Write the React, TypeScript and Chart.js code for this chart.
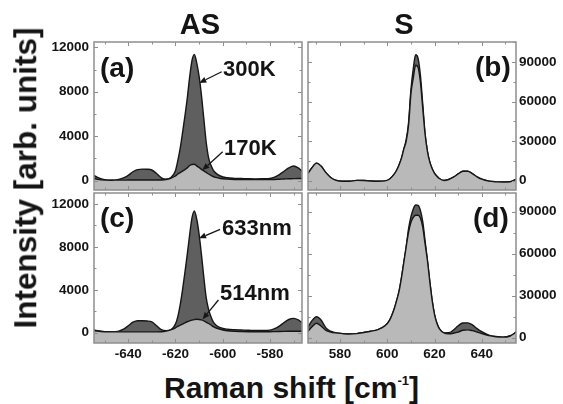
import React, { useEffect, useRef } from "react";
import { Chart, registerables } from "chart.js";

Chart.register(...registerables);

const FONT = "'Liberation Sans', Arial, Helvetica, sans-serif";
const DARK = "#5f5f5f";
const LIGHT = "#b9b9b9";
const LINE = "#161616";
const FRAME = "#8e8e8e";
const TEXT = "#141414";

// ---------- data: anti-Stokes (left column) ----------
const asX = [-656, -653, -650, -647, -644, -642, -640, -638, -636, -634, -632, -630, -628, -626, -624, -622, -620, -619, -618, -617, -616, -615, -614, -613, -612, -611, -610, -609, -608, -607, -606, -605, -604, -603, -601, -598, -595, -592, -589, -586, -583, -580, -578, -576, -574, -572, -570, -568, -566, -564];
const as300K = [620, 300, 90, 40, 120, 250, 480, 800, 1000, 1040, 1030, 960, 640, 260, 130, 250, 900, 1800, 2900, 4300, 5800, 7400, 9300, 10800, 11350, 10600, 9400, 7700, 5600, 3500, 2100, 1400, 950, 700, 420, 260, 210, 190, 170, 160, 170, 200, 320, 550, 850, 1150, 1320, 1150, 800, 650];
const as170K = [280, 120, 50, 40, 50, 50, 55, 60, 60, 60, 60, 60, 60, 65, 100, 220, 420, 600, 720, 860, 1000, 1150, 1370, 1460, 1475, 1330, 1180, 1020, 880, 740, 600, 470, 360, 290, 200, 140, 110, 100, 90, 90, 90, 100, 110, 130, 150, 170, 180, 190, 190, 190];
const as633nm = [320, 180, 100, 90, 150, 330, 650, 980, 1120, 1120, 1090, 1000, 650, 280, 190, 260, 800, 1500, 2600, 4000, 5600, 7300, 9100, 10700, 11350, 10600, 9200, 7300, 5200, 3300, 2200, 1500, 1000, 750, 470, 320, 270, 250, 230, 200, 200, 240, 380, 620, 950, 1230, 1340, 1200, 880, 750];
const as514nm = [280, 150, 90, 80, 80, 80, 80, 80, 80, 80, 80, 80, 80, 90, 150, 270, 450, 600, 700, 800, 920, 1020, 1100, 1170, 1220, 1250, 1230, 1190, 1110, 990, 860, 720, 560, 460, 320, 180, 120, 100, 90, 90, 90, 90, 100, 110, 120, 130, 140, 140, 140, 140];

// ---------- data: Stokes (right column) ----------
const sX = [564, 566, 568, 570, 572, 574, 576, 578, 581, 584, 587, 590, 593, 596, 599, 601, 603, 604, 605, 606, 607, 608, 609, 610, 611, 612, 613, 614, 615, 616, 617, 618, 619, 620, 621, 622, 624, 626, 628, 630, 632, 634, 636, 638, 640, 643, 646, 649, 652, 655, 657];
const s300K = [1500, 4500, 9500, 13200, 10800, 6000, 2300, 300, -600, -600, 100, 0, -400, -600, -300, 1200, 5000, 8000, 12000, 17000, 24000, 31000, 44000, 69000, 85000, 95500, 93000, 80000, 58000, 35000, 22000, 14000, 9000, 5500, 3200, 1500, 0, 800, 2500, 5000, 7000, 7000, 5300, 2800, 1000, -500, -1000, -1100, -900, 1500, 3500];
const s170K = [1500, 4500, 9500, 13200, 10800, 6000, 2300, 300, -600, -600, 100, 0, -400, -600, -300, 1200, 5000, 8000, 12000, 17000, 24000, 30000, 42000, 66000, 78000, 87500, 86000, 75000, 55000, 35000, 22000, 14000, 9000, 5500, 3200, 1500, 0, 800, 2500, 5000, 7000, 7000, 5300, 2800, 1000, -500, -1000, -1100, -900, 1500, 3500];
const s633nm = [2500, 6500, 12000, 15000, 12500, 7000, 4600, 3500, 2900, 2600, 2900, 3700, 4600, 5800, 8500, 12600, 21000, 26900, 33500, 43000, 54000, 65000, 78000, 86500, 92000, 94800, 94500, 91000, 83000, 69000, 55000, 40000, 26500, 16500, 10300, 6500, 3400, 3500, 5500, 8500, 10500, 10600, 9200, 6500, 4300, 1800, 800, 400, 1200, 4500, 6500];
const s514nm = [1500, 4000, 7600, 10300, 8200, 5200, 4000, 3400, 2900, 2600, 2900, 3700, 4600, 5800, 8500, 12600, 21000, 26900, 33500, 43000, 54000, 65000, 75500, 82500, 86000, 87500, 87500, 85500, 79000, 67000, 55000, 40000, 26500, 16500, 10300, 6500, 3400, 2800, 3200, 4000, 5300, 5600, 5000, 4000, 3000, 1500, 700, 400, 1200, 4500, 6500];

// ---------- tick labels ----------
const asXTicks = [-640, -620, -600, -580];
const sXTicks = [580, 600, 620, 640];
const asYTicks = [0, 4000, 8000, 12000];
const sYTicks = [0, 30000, 60000, 90000];

type Arrow = { from: [number, number]; to: [number, number] };

type PanelCfg = {
  key: string;
  left: number; top: number; width: number; height: number;
  padding: { top: number; right: number; bottom: number; left: number };
  xs: number[]; dark: number[]; light: number[];
  xMin: number; xMax: number; yMin: number; yMax: number;
  xTicks: number[]; yTicks: number[]; yMinor: number;
  yPos: "left" | "right"; yWidth: number; yPad: number;
  showX: boolean;
  arrows: Arrow[];
};

const panels: PanelCfg[] = [
  {
    key: "a", left: 40, top: 38, width: 266, height: 156,
    padding: { top: 4, right: 4, bottom: 4, left: 0 },
    xs: asX, dark: as300K, light: as170K,
    xMin: -654.5, xMax: -566.4, yMin: -840, yMax: 12480,
    xTicks: asXTicks, yTicks: asYTicks, yMinor: 2000,
    yPos: "left", yWidth: 54, yPad: 5, showX: false,
    arrows: [
      { from: [-600.4, 9800], to: [-609.9, 8800] },
      { from: [-600.0, 2600], to: [-608.6, 950] },
    ],
  },
  {
    key: "b", left: 304, top: 38, width: 259, height: 156,
    padding: { top: 4, right: 0, bottom: 4, left: 4 },
    xs: sX, dark: s300K, light: s170K,
    xMin: 566.4, xMax: 654.5, yMin: -7200, yMax: 105200,
    xTicks: sXTicks, yTicks: sYTicks, yMinor: 15000,
    yPos: "right", yWidth: 47, yPad: 3, showX: false,
    arrows: [],
  },
  {
    key: "c", left: 40, top: 189, width: 266, height: 178,
    padding: { top: 4, right: 4, bottom: 0, left: 0 },
    xs: asX, dark: as633nm, light: as514nm,
    xMin: -654.5, xMax: -566.4, yMin: -960, yMax: 13025,
    xTicks: asXTicks, yTicks: asYTicks, yMinor: 2000,
    yPos: "left", yWidth: 54, yPad: 5, showX: true,
    arrows: [
      { from: [-601.1, 9640], to: [-610.0, 8800] },
      { from: [-601.8, 3050], to: [-608.5, 1250] },
    ],
  },
  {
    key: "d", left: 304, top: 189, width: 259, height: 178,
    padding: { top: 4, right: 0, bottom: 0, left: 4 },
    xs: sX, dark: s633nm, light: s514nm,
    xMin: 566.4, xMax: 654.5, yMin: -3800, yMax: 103400,
    xTicks: sXTicks, yTicks: sYTicks, yMinor: 15000,
    yPos: "right", yWidth: 47, yPad: 3, showX: true,
    arrows: [],
  },
];

function makeOverlay(cfg: PanelCfg) {
  return {
    id: "overlay" + cfg.key,
    afterDatasetsDraw(chart: any) {
      const { ctx, chartArea: a, scales } = chart;
      const xs = scales.x, ys = scales.y;
      ctx.save();
      ctx.strokeStyle = FRAME;
      ctx.lineWidth = 1;
      ctx.beginPath();
      for (let v = Math.ceil(cfg.xMin / 10) * 10; v <= cfg.xMax; v += 10) {
        const p = Math.round(xs.getPixelForValue(v)) + 0.5;
        const len = v % 20 === 0 ? 4 : 2.5;
        ctx.moveTo(p, a.bottom); ctx.lineTo(p, a.bottom - len);
        ctx.moveTo(p, a.top); ctx.lineTo(p, a.top + len);
      }
      for (let v = Math.ceil(cfg.yMin / cfg.yMinor) * cfg.yMinor; v <= cfg.yMax; v += cfg.yMinor) {
        const p = Math.round(ys.getPixelForValue(v)) + 0.5;
        const len = Math.round(v / cfg.yMinor) % 2 === 0 ? 4 : 2.5;
        ctx.moveTo(a.left, p); ctx.lineTo(a.left + len, p);
        ctx.moveTo(a.right, p); ctx.lineTo(a.right - len, p);
      }
      ctx.stroke();
      ctx.lineWidth = 1.5;
      ctx.strokeRect(a.left, a.top, a.right - a.left, a.bottom - a.top);

      ctx.strokeStyle = LINE;
      ctx.fillStyle = LINE;
      ctx.lineWidth = 1.3;
      for (const ar of cfg.arrows) {
        const x1 = xs.getPixelForValue(ar.from[0]);
        const y1 = ys.getPixelForValue(ar.from[1]);
        const x2 = xs.getPixelForValue(ar.to[0]);
        const y2 = ys.getPixelForValue(ar.to[1]);
        const ang = Math.atan2(y2 - y1, x2 - x1);
        const hl = 7, hw = 3;
        const bx = x2 - hl * Math.cos(ang);
        const by = y2 - hl * Math.sin(ang);
        ctx.beginPath();
        ctx.moveTo(x1, y1);
        ctx.lineTo(bx, by);
        ctx.stroke();
        ctx.beginPath();
        ctx.moveTo(x2, y2);
        ctx.lineTo(bx + hw * Math.sin(ang), by - hw * Math.cos(ang));
        ctx.lineTo(bx - hw * Math.sin(ang), by + hw * Math.cos(ang));
        ctx.closePath();
        ctx.fill();
      }
      ctx.restore();
    },
  };
}

function Panel({ cfg }: { cfg: PanelCfg }) {
  const ref = useRef<HTMLCanvasElement>(null);
  useEffect(() => {
    const tickFont = { family: FONT, size: 13.5, weight: "bold" as const };
    const chart = new Chart(ref.current as HTMLCanvasElement, {
      type: "line",
      data: {
        datasets: [
          {
            data: cfg.xs.map((x, i) => ({ x, y: cfg.light[i] })),
            fill: "start",
            backgroundColor: LIGHT,
            borderColor: LINE,
            borderWidth: 1.4,
            pointRadius: 0,
            cubicInterpolationMode: "monotone",
          },
          {
            data: cfg.xs.map((x, i) => ({ x, y: cfg.dark[i] })),
            fill: "start",
            backgroundColor: DARK,
            borderColor: LINE,
            borderWidth: 1.4,
            pointRadius: 0,
            cubicInterpolationMode: "monotone",
          },
        ],
      },
      options: {
        animation: false,
        responsive: false,
        maintainAspectRatio: false,
        events: [],
        layout: { padding: cfg.padding },
        plugins: {
          legend: { display: false },
          tooltip: { enabled: false },
          title: { display: false },
        },
        scales: {
          x: {
            type: "linear",
            min: cfg.xMin,
            max: cfg.xMax,
            display: cfg.showX,
            grid: { display: false, drawTicks: false },
            border: { display: false },
            ticks: {
              padding: 3,
              font: tickFont,
              color: TEXT,
              maxRotation: 0,
              autoSkip: false,
              callback: (v: any) => String(v),
            },
            afterBuildTicks: (s: any) => {
              s.ticks = cfg.xTicks.map((v) => ({ value: v }));
            },
            afterFit: (s: any) => {
              if (cfg.showX) s.height = 24;
              s.paddingLeft = 0;
              s.paddingRight = 0;
            },
          },
          y: {
            type: "linear",
            position: cfg.yPos,
            min: cfg.yMin,
            max: cfg.yMax,
            grid: { display: false, drawTicks: false },
            border: { display: false },
            ticks: {
              padding: cfg.yPad,
              font: tickFont,
              color: TEXT,
              autoSkip: false,
              callback: (v: any) => String(v),
            },
            afterBuildTicks: (s: any) => {
              s.ticks = cfg.yTicks.map((v) => ({ value: v }));
            },
            afterFit: (s: any) => {
              s.width = cfg.yWidth;
              s.paddingTop = 0;
              s.paddingBottom = 0;
            },
          },
        },
      } as any,
      plugins: [makeOverlay(cfg)],
    });
    return () => chart.destroy();
  }, [cfg]);
  return (
    <canvas
      ref={ref}
      width={cfg.width}
      height={cfg.height}
      style={{ position: "absolute", left: cfg.left, top: cfg.top, width: cfg.width, height: cfg.height }}
    />
  );
}

function Txt({ x, base, size, align = "left", children }: { x: number; base: number; size: number; align?: string; children: React.ReactNode }) {
  return (
    <div
      style={{
        position: "absolute",
        left: x,
        top: base - 0.8465 * size,
        fontSize: size,
        lineHeight: `${size}px`,
        fontFamily: FONT,
        fontWeight: "bold",
        color: TEXT,
        whiteSpace: "nowrap",
        transform: align === "center" ? "translateX(-50%)" : undefined,
      }}
    >
      {children}
    </div>
  );
}

export default function App() {
  return (
    <div style={{ position: "absolute", left: 0, top: 0, width: 563, height: 404, background: "#fff", overflow: "hidden" }}>
      {panels.map((p) => (
        <Panel key={p.key} cfg={p} />
      ))}
      <Txt x={200} base={35} size={29} align="center">AS</Txt>
      <Txt x={404} base={35} size={29} align="center">S</Txt>
      <Txt x={100} base={78} size={28}>(a)</Txt>
      <Txt x={475} base={77} size={28}>(b)</Txt>
      <Txt x={100} base={228} size={28}>(c)</Txt>
      <Txt x={473} base={228} size={28}>(d)</Txt>
      <Txt x={223} base={77} size={22}>300K</Txt>
      <Txt x={224} base={156} size={22}>170K</Txt>
      <Txt x={222} base={235.5} size={22}>633nm</Txt>
      <Txt x={220} base={300.5} size={22}>514nm</Txt>
      <div
        style={{
          position: "absolute",
          left: 26.1,
          top: 178,
          fontSize: 31.5,
          lineHeight: "31.5px",
          fontFamily: FONT,
          fontWeight: "bold",
          color: TEXT,
          whiteSpace: "nowrap",
          transform: "translate(-50%, -50%) rotate(-90deg)",
        }}
      >
        Intensity [arb. units]
      </div>
      <Txt x={291.5} base={398} size={30} align="center">
        Raman shift [cm
        <span style={{ fontSize: 13, position: "relative", top: -13 }}>-1</span>]
      </Txt>
    </div>
  );
}
